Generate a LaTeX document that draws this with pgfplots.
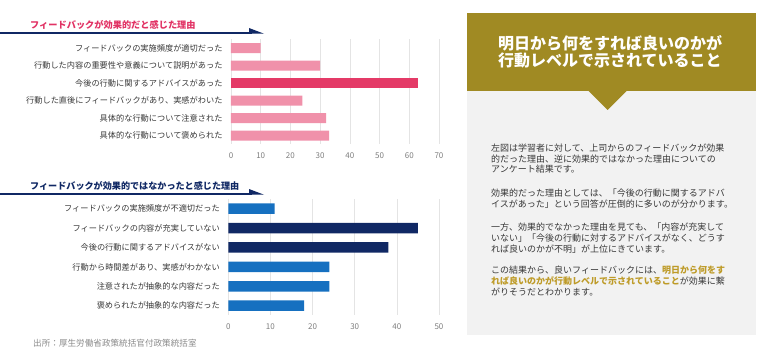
\documentclass[border=0pt]{standalone}
\usepackage{pgfplots}
\pgfplotsset{compat=1.18}
\usepackage{fontspec}
\setmainfont{Noto Sans CJK JP}
\newfontfamily\cjk{Noto Sans CJK JP}
\definecolor{pinklight}{RGB}{240,145,170}
\definecolor{pinkdark}{RGB}{228,58,103}
\definecolor{pinktitle}{RGB}{225,50,100}
\definecolor{bluemid}{RGB}{22,112,192}
\definecolor{navy}{RGB}{16,40,100}
\definecolor{goldbox}{RGB}{160,138,35}
\definecolor{goldtext}{RGB}{190,155,40}
\definecolor{panelgray}{RGB}{242,242,242}
\definecolor{labelgray}{RGB}{55,55,55}
\definecolor{tickgray}{RGB}{125,125,125}
\definecolor{gridgray}{RGB}{228,228,228}
\pgfplotsset{
  myaxis/.style={
    scale only axis, xbar, y dir=reverse,
    ymin=-0.5, ymax=5.5, ytick={0,...,5}, xmin=0,
    axis line style={draw=none}, major tick length=0pt,
    xmajorgrids, grid style={gridgray, line width=0.7pt},
    /pgf/number format/assume math mode=true,
    xticklabel style={font=\cjk\fontsize{8}{9}\selectfont, text=tickgray, yshift=-5pt},
    yticklabel style={font=\cjk\fontsize{8.2}{9}\selectfont, text=labelgray, xshift=-5pt},
    clip=false,
  }
}
\begin{document}
\begin{tikzpicture}
\path[use as bounding box] (0pt,0pt) rectangle (779pt,-350pt);
% top title
\node[anchor=west, inner sep=0pt, font=\cjk\bfseries\fontsize{9.2}{10}\selectfont, text=pinktitle] at (30pt,-25pt) {フィードバックが効果的だと感じた理由};
\draw[navy, line width=1.4pt] (0pt,-33pt) -- (252pt,-33pt);
\fill[navy] (249pt,-33.7pt) -- (249pt,-28pt) -- (264pt,-33.7pt) -- cycle;
% top chart
\begin{axis}[myaxis, at={(231pt,-39.5pt)}, anchor=north west,
  width=208pt, height=105pt, xmax=70, xtick={0,10,...,70},
  yticklabels={フィードバックの実施頻度が適切だった,行動した内容の重要性や意義について説明があった,今後の行動に関するアドバイスがあった,行動した直後にフィードバックがあり、実感がわいた,具体的な行動について注意された,具体的な行動について褒められた}]
\addplot[xbar, bar width=10pt, bar shift=0pt, fill=pinklight, draw=none] coordinates {(10,0) (30,1) (24,3) (32,4) (33,5)};
\addplot[xbar, bar width=10pt, bar shift=0pt, fill=pinkdark, draw=none] coordinates {(63,2)};
\end{axis}
% bottom title
\node[anchor=west, inner sep=0pt, font=\cjk\bfseries\fontsize{9.1}{10}\selectfont, text=navy] at (30pt,-186pt) {フィードバックが効果的ではなかったと感じた理由};
\draw[navy, line width=1.4pt] (0pt,-194pt) -- (252pt,-194pt);
\fill[navy] (249pt,-194.7pt) -- (249pt,-189pt) -- (264pt,-194.7pt) -- cycle;
% bottom chart
\begin{axis}[myaxis, at={(228.3pt,-199pt)}, anchor=north west,
  width=210.7pt, height=116.4pt, xmax=50, xtick={0,10,...,50},
  yticklabels={フィードバックの実施頻度が不適切だった,フィードバックの内容が充実していない,今後の行動に関するアドバイスがない,行動から時間差があり、実感がわかない,注意されたが抽象的な内容だった,褒められたが抽象的な内容だった}]
\addplot[xbar, bar width=10.5pt, bar shift=0pt, fill=bluemid, draw=none] coordinates {(11,0) (24,3) (24,4) (18,5)};
\addplot[xbar, bar width=10.5pt, bar shift=0pt, fill=navy, draw=none] coordinates {(45,1) (38,2)};
\end{axis}
% source
\node[anchor=west, inner sep=0pt, font=\cjk\fontsize{8.6}{10}\selectfont, text=tickgray!90] at (33pt,-343pt) {出所：厚生労働省政策統括官付政策統括室};
% right panel
\fill[panelgray] (467pt,-91pt) rectangle (756pt,-335pt);
\fill[goldbox] (467pt,-13pt) rectangle (756pt,-91pt);
\fill[goldbox] (588pt,-90.5pt) -- (627pt,-90.5pt) -- (607.5pt,-110pt) -- cycle;
\node[anchor=west, inner sep=0pt, font=\cjk\bfseries\fontsize{16}{18}\selectfont, text=white] at (498pt,-43pt) {明日から何をすれば良いのかが};
\node[anchor=west, inner sep=0pt, font=\cjk\bfseries\fontsize{16}{18}\selectfont, text=white] at (498pt,-60pt) {行動レベルで示されていること};
\begin{scope}[every node/.style={anchor=west, inner sep=0pt, font=\cjk\fontsize{9}{10}\selectfont, text=labelgray}]
\node at (491pt,-148pt) {左図は学習者に対して、上司からのフィードバックが効果};
\node at (491pt,-159pt) {的だった理由、逆に効果的ではなかった理由についての};
\node at (491pt,-169.5pt) {アンケート結果です。};
\node at (491pt,-193pt) {効果的だった理由としては、「今後の行動に関するアドバ};
\node at (491pt,-204pt) {イスがあった」という回答が圧倒的に多いのが分かります。};
\node at (491pt,-227pt) {一方、効果的でなかった理由を見ても、「内容が充実して};
\node at (491pt,-238pt) {いない」「今後の行動に対するアドバイスがなく、どうす};
\node at (491pt,-249pt) {れば良いのかが不明」が上位にきています。};
\node at (491pt,-270pt) {この結果から、良いフィードバックには、{\bfseries\color{goldtext}明日から何をす}};
\node at (491pt,-281pt) {{\bfseries\color{goldtext}れば良いのかが行動レベルで示されていること}が効果に繋};
\node at (491pt,-292pt) {がりそうだとわかります。};
\end{scope}
\end{tikzpicture}
\end{document}
